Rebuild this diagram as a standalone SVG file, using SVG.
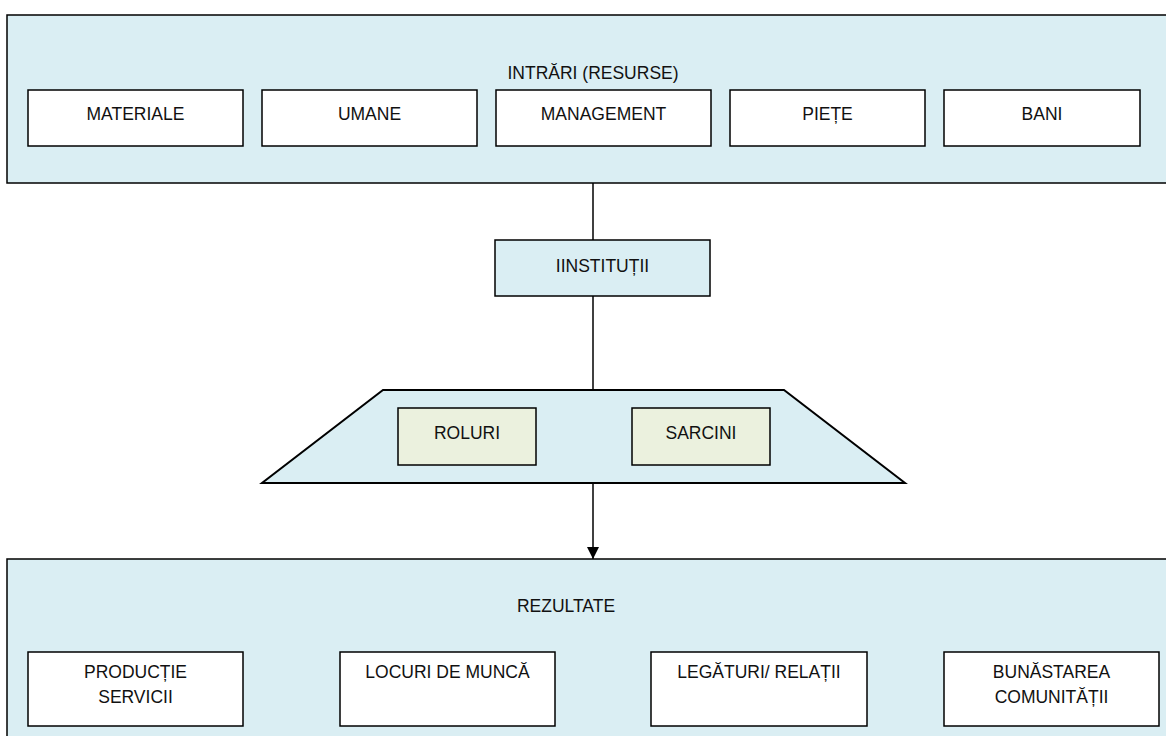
<svg xmlns="http://www.w3.org/2000/svg" width="1166" height="736" viewBox="0 0 1166 736">
<defs>
<style>
.panel{fill:#DAEEF3;stroke:#000;stroke-width:1.5}
.box{fill:#fff;stroke:#000;stroke-width:1.5}
.gbox{fill:#EBF1DE;stroke:#000;stroke-width:1.5}
.t{font-family:"Liberation Sans",Arial,sans-serif;font-size:17.5px;fill:#111;text-anchor:middle}
.con{stroke:#000;stroke-width:1.5;fill:none}
</style>
<marker id="arr" viewBox="0 0 12 12" refX="12" refY="6" markerWidth="12" markerHeight="12" markerUnits="userSpaceOnUse" orient="auto">
<path d="M0,0 L12,6 L0,12 Z" fill="#000"/>
</marker>
</defs>
<rect width="1166" height="736" fill="#fff"/>
<g id="intrari">
<rect class="panel" x="7" y="15" width="1170" height="168"/>
<text class="t" x="593" y="79">INTRĂRI (RESURSE)</text>
</g>
<g id="materiale"><rect class="box" x="28" y="90" width="215" height="56"/><text class="t" x="135.5" y="120">MATERIALE</text></g>
<g id="umane"><rect class="box" x="262" y="90" width="215" height="56"/><text class="t" x="369.5" y="120">UMANE</text></g>
<g id="management"><rect class="box" x="496" y="90" width="215" height="56"/><text class="t" x="603.5" y="120">MANAGEMENT</text></g>
<g id="piete"><rect class="box" x="730" y="90" width="195" height="56"/><text class="t" x="827.5" y="120">PIEȚE</text></g>
<g id="bani"><rect class="box" x="944" y="90" width="196" height="56"/><text class="t" x="1042" y="120">BANI</text></g>
<g id="connectors">
<line class="con" x1="593" y1="183" x2="593" y2="240"/>
<line class="con" x1="593" y1="296" x2="593" y2="390"/>
<line class="con" x1="593" y1="483" x2="593" y2="559" marker-end="url(#arr)"/>
</g>
<g id="institutii"><rect class="panel" x="495" y="240" width="215" height="56"/><text class="t" x="602.5" y="272">IINSTITUȚII</text></g>
<g id="trapez"><polygon points="383,390 784,390 905,483 262,483" fill="#DAEEF3" stroke="#000" stroke-width="2" stroke-linejoin="miter"/></g>
<g id="roluri"><rect class="gbox" x="398" y="408" width="138" height="57"/><text class="t" x="467" y="439">ROLURI</text></g>
<g id="sarcini"><rect class="gbox" x="632" y="408" width="138" height="57"/><text class="t" x="701" y="439">SARCINI</text></g>
<g id="rezultate">
<rect class="panel" x="7" y="559" width="1170" height="190"/>
<text class="t" x="566" y="612">REZULTATE</text>
</g>
<g id="productie"><rect class="box" x="28" y="652" width="215" height="74"/><text class="t" x="135.5" y="678">PRODUCȚIE</text><text class="t" x="135.5" y="703">SERVICII</text></g>
<g id="locuri"><rect class="box" x="340" y="652" width="215" height="74"/><text class="t" x="447.5" y="678">LOCURI DE MUNCĂ</text></g>
<g id="legaturi"><rect class="box" x="651" y="652" width="216" height="74"/><text class="t" x="759" y="678">LEGĂTURI/ RELAȚII</text></g>
<g id="bunastarea"><rect class="box" x="944" y="652" width="215" height="74"/><text class="t" x="1051.5" y="678">BUNĂSTAREA</text><text class="t" x="1051.5" y="703">COMUNITĂȚII</text></g>
</svg>
